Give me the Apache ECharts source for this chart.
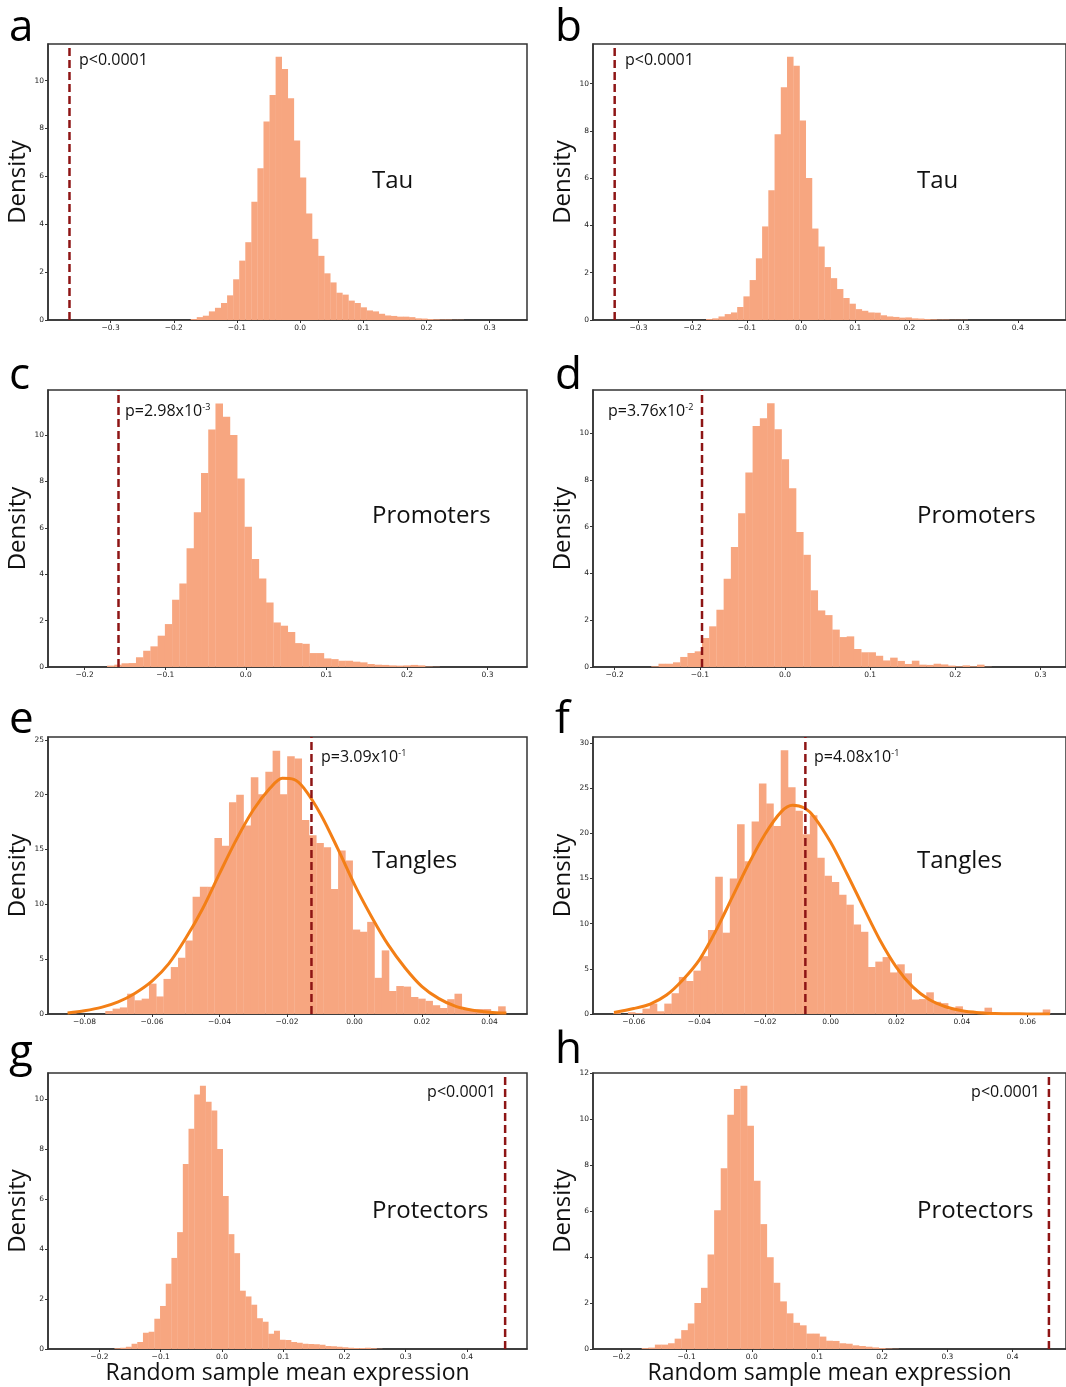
<!DOCTYPE html>
<html>
<head>
<meta charset="utf-8">
<script src="https://cdn.jsdelivr.net/npm/echarts@6/dist/echarts.min.js"></script>
<style>
html,body{margin:0;padding:0;background:#fff;}
#chart{width:1066px;height:1387px;}
</style>
</head>
<body>
<div id="chart"></div>
<script>
// ---------------- DATA ----------------
// a: Tau (left)
const tauLeftBinStart = -0.1732;
const tauLeftBinWidth = 0.0096;
const tauLeftDensity = [0.04,0.12,0.18,0.36,0.51,0.71,1.03,1.70,2.48,3.25,4.94,6.34,8.29,9.40,11.0,10.49,9.26,7.50,5.95,4.45,3.39,2.68,1.95,1.57,1.14,1.06,0.81,0.71,0.53,0.40,0.36,0.26,0.19,0.17,0.14,0.14,0.12,0.07,0.06,0.04,0.03,0.02,0.02,0.01,0.01];
const tauLeftObserved = -0.365;
const tauLeftXRange = [-0.399, 0.359];
const tauLeftYMax = 11.53;
const tauLeftXTicks = [-0.3,-0.2,-0.1,0,0.1,0.2,0.3];

// b: Tau (right)
const tauRightBinStart = -0.1754;
const tauRightBinWidth = 0.0115;
const tauRightDensity = [0.04,0.07,0.15,0.25,0.32,0.55,1.0,1.69,2.61,3.96,5.49,7.86,9.85,11.14,10.76,8.44,6.01,3.87,3.11,2.24,1.77,1.31,0.93,0.69,0.46,0.39,0.32,0.31,0.20,0.15,0.13,0.10,0.11,0.07,0.06,0.04,0.03,0.02,0.02,0.01,0.01,0.01];
const tauRightObserved = -0.344;
const tauRightXRange = [-0.384, 0.489];
const tauRightYMax = 11.68;
const tauRightXTicks = [-0.3,-0.2,-0.1,0,0.1,0.2,0.3,0.4];

// c: Promoters (left)
const promLeftBinStart = -0.1722;
const promLeftBinWidth = 0.00897;
const promLeftDensity = [0.06,0.10,0.16,0.17,0.42,0.70,0.89,1.35,1.85,2.90,3.60,5.12,6.67,8.36,10.24,11.36,10.79,10.0,8.13,6.05,4.65,3.82,2.78,1.92,1.78,1.51,1.03,1.00,0.60,0.60,0.37,0.34,0.27,0.27,0.23,0.20,0.13,0.10,0.09,0.07,0.06,0.07,0.09,0.07,0.02,0.01];
const promLeftObserved = -0.158;
const promLeftXRange = [-0.2455, 0.349];
const promLeftYMax = 11.94;
const promLeftXTicks = [-0.2,-0.1,0,0.1,0.2,0.3];

// d: Promoters (right)
const promRightBinStart = -0.157;
const promRightBinWidth = 0.0085;
const promRightDensity = [0.03,0.14,0.14,0.20,0.43,0.60,0.67,1.24,1.74,2.45,3.77,5.13,6.58,8.32,10.31,10.64,11.28,10.17,8.89,7.65,5.77,4.80,3.28,2.42,2.22,1.60,1.28,1.31,0.77,0.63,0.63,0.48,0.28,0.40,0.26,0.13,0.27,0.10,0.09,0.14,0.11,0.06,0.03,0.07,0.03,0.10,0.01];
const promRightObserved = -0.0974;
const promRightXRange = [-0.2254, 0.330];
const promRightYMax = 11.85;
const promRightXTicks = [-0.2,-0.1,0,0.1,0.2,0.3];

// e: Tangles (left)
const tangLeftBinStart = -0.0846;
const tangLeftBinWidth = 0.002155;
const tangLeftDensity = [0.05,0,0,0,0,0.27,0.49,0.6,1.85,1.25,1.4,2.77,1.6,3.2,4.28,5.13,6.7,10.7,11.6,11.6,16.05,15.35,19.3,20.0,17.2,21.6,20.05,22.1,24.0,20.05,23.5,23.3,17.7,16.3,15.6,15.2,11.4,14.9,14.0,7.7,7.5,8.4,3.3,5.8,2.1,2.55,2.5,1.55,1.4,1.2,0.8,0.55,1.35,1.85,0.4,0.45,0.45,0.45,0.1,0.7];
const tangLeftFitX = [-0.085,-0.080,-0.075,-0.070,-0.065,-0.060,-0.055,-0.050,-0.045,-0.040,-0.035,-0.030,-0.025,-0.0214,-0.018,-0.015,-0.010,-0.005,0.000,0.005,0.010,0.015,0.020,0.025,0.030,0.035,0.040,0.045];
const tangLeftFitY = [0.1,0.3,0.6,1.1,1.9,3.0,4.6,6.9,9.6,12.8,15.9,18.6,20.6,21.5,21.4,20.6,18.2,15.1,11.8,8.9,6.3,4.2,2.5,1.4,0.7,0.35,0.17,0.08];
const tangLeftObserved = -0.01275;
const tangLeftXRange = [-0.0908, 0.0511];
const tangLeftYMax = 25.26;
const tangLeftXTicks = [-0.08,-0.06,-0.04,-0.02,0,0.02,0.04];

// f: Tangles (right)
const tangRightBinStart = -0.0662;
const tangRightBinWidth = 0.002217;
const tangRightDensity = [0.1,0,0.2,0.1,0.6,1.15,0.3,1.15,2.3,4.1,3.65,4.8,6.4,9.3,15.2,9.0,15.0,21.0,16.9,21.3,25.5,23.3,20.8,29.2,25.1,22.5,19.9,22.0,17.3,15.3,14.6,13.2,12.1,9.9,9.1,5.2,5.8,6.3,4.6,5.5,4.5,1.6,1.65,2.4,1.35,1.2,0.5,0.85,0.2,0.1,0.3,0.7,0.1,0.1,0.1,0.1,0.1,0.05,0.05,0.5];
const tangRightFitX = [-0.066,-0.060,-0.055,-0.050,-0.045,-0.040,-0.035,-0.030,-0.025,-0.020,-0.015,-0.0116,-0.008,-0.005,0.000,0.005,0.010,0.015,0.020,0.025,0.030,0.035,0.040,0.045,0.050,0.055,0.060,0.0668];
const tangRightFitY = [0.17,0.6,1.1,2.1,3.8,6.0,9.2,12.9,16.6,19.9,22.4,23.1,22.8,21.8,19.0,15.5,11.8,8.2,5.2,3.0,1.6,0.8,0.35,0.15,0.06,0.03,0.01,0.0];
const tangRightObserved = -0.0077;
const tangRightXRange = [-0.0724, 0.0717];
const tangRightYMax = 30.66;
const tangRightXTicks = [-0.06,-0.04,-0.02,0,0.02,0.04,0.06];

// g: Protectors (left)
const protLeftBinStart = -0.1755;
const protLeftBinWidth = 0.0093;
const protLeftDensity = [0.03,0.05,0.09,0.21,0.28,0.65,0.69,1.21,1.72,2.61,3.64,4.67,7.39,8.80,10.17,10.52,9.88,9.53,7.99,6.11,4.59,3.83,2.33,2.10,1.77,1.23,1.09,0.61,0.73,0.37,0.36,0.28,0.25,0.21,0.20,0.19,0.17,0.12,0.11,0.09,0.07,0.05,0.04,0.04,0.05,0.03,0.01];
const protLeftObserved = 0.4623;
const protLeftXRange = [-0.284, 0.498];
const protLeftYMax = 11.03;
const protLeftXTicks = [-0.2,-0.1,0,0.1,0.2,0.3,0.4];

// h: Protectors (right)
const protRightBinStart = -0.1688;
const protRightBinWidth = 0.0101;
const protRightDensity = [0.04,0.06,0.19,0.19,0.25,0.45,0.82,1.11,2.0,2.66,4.11,6.03,7.86,10.19,11.30,11.45,9.71,7.32,5.43,3.99,2.88,2.07,1.55,1.14,1.03,0.67,0.67,0.54,0.36,0.35,0.25,0.23,0.16,0.13,0.10,0.07,0.04,0.02,0.01];
const protRightObserved = 0.4558;
const protRightXRange = [-0.2435, 0.482];
const protRightYMax = 12.0;
const protRightXTicks = [-0.2,-0.1,0,0.1,0.2,0.3,0.4];

const yTicks10 = [0,2,4,6,8,10];
const yTicks12 = [0,2,4,6,8,10,12];
const yTicks25 = [0,5,10,15,20,25];
const yTicks30 = [0,5,10,15,20,25,30];

const categoryNames = ['Tau','Tau','Promoters','Promoters','Tangles','Tangles','Protectors','Protectors'];
const panelLetters = ['a','b','c','d','e','f','g','h'];
const pLabels = ['p<0.0001','p<0.0001','p=2.98x10{sup|-3}','p=3.76x10{sup|-2}','p=3.09x10{sup|-1}','p=4.08x10{sup|-1}','p<0.0001','p<0.0001'];

// ---------------- LAYOUT & STYLE ----------------
const HIST_COLOR = '#F7A680';
const FIT_COLOR = '#F37F16';
const DASH_COLOR = '#8E1515';
const AXIS_COLOR = '#333';
const LABEL_FONT = '"Open Sans", "Noto Sans", sans-serif';

const layouts = [
  {left:48, top:44, width:479, height:276},
  {left:593, top:44, width:474, height:276},
  {left:48, top:390, width:479, height:277},
  {left:593, top:390, width:474, height:277},
  {left:48, top:737, width:479, height:277},
  {left:593, top:737, width:474, height:277},
  {left:48, top:1073, width:479, height:276},
  {left:593, top:1073, width:474, height:276}
];

const panels = [
  {start:tauLeftBinStart, w:tauLeftBinWidth, dens:tauLeftDensity, obs:tauLeftObserved, xr:tauLeftXRange, ymax:tauLeftYMax, xt:tauLeftXTicks, yt:yTicks10, dec:1},
  {start:tauRightBinStart, w:tauRightBinWidth, dens:tauRightDensity, obs:tauRightObserved, xr:tauRightXRange, ymax:tauRightYMax, xt:tauRightXTicks, yt:yTicks10, dec:1},
  {start:promLeftBinStart, w:promLeftBinWidth, dens:promLeftDensity, obs:promLeftObserved, xr:promLeftXRange, ymax:promLeftYMax, xt:promLeftXTicks, yt:yTicks10, dec:1},
  {start:promRightBinStart, w:promRightBinWidth, dens:promRightDensity, obs:promRightObserved, xr:promRightXRange, ymax:promRightYMax, xt:promRightXTicks, yt:yTicks10, dec:1},
  {start:tangLeftBinStart, w:tangLeftBinWidth, dens:tangLeftDensity, obs:tangLeftObserved, xr:tangLeftXRange, ymax:tangLeftYMax, xt:tangLeftXTicks, yt:yTicks25, dec:2, fitX:tangLeftFitX, fitY:tangLeftFitY},
  {start:tangRightBinStart, w:tangRightBinWidth, dens:tangRightDensity, obs:tangRightObserved, xr:tangRightXRange, ymax:tangRightYMax, xt:tangRightXTicks, yt:yTicks30, dec:2, fitX:tangRightFitX, fitY:tangRightFitY},
  {start:protLeftBinStart, w:protLeftBinWidth, dens:protLeftDensity, obs:protLeftObserved, xr:protLeftXRange, ymax:protLeftYMax, xt:protLeftXTicks, yt:yTicks10, dec:1},
  {start:protRightBinStart, w:protRightBinWidth, dens:protRightDensity, obs:protRightObserved, xr:protRightXRange, ymax:protRightYMax, xt:protRightXTicks, yt:yTicks12, dec:1}
];

// text placements (pixels)
const letterPos = [[9,28],[555,28],[9,376],[555,376],[9,720],[555,720],[9,1053],[555,1050]];
const namePos = [[372,181],[917,181],[372,516],[917,516],[372,861],[917,861],[372,1211],[917,1211]];
const pPos = [[79,60,'left'],[625,60,'left'],[125,411,'left'],[608,411,'left'],[321,757,'left'],[814,757,'left'],[496,1092,'right'],[1040,1092,'right']];

function fmtTick(v, d){
  if (Math.abs(v) < 1e-12) return (0).toFixed(d);
  return (v < 0 ? '\u2212' : '') + Math.abs(v).toFixed(d);
}

function renderBar(params, api){
  const x0 = api.value(0), x1 = api.value(1), h = api.value(2);
  const a = api.coord([x0, 0]);
  const b = api.coord([x1, h]);
  return {
    type:'rect',
    shape:{x:a[0], y:b[1], width:(b[0]-a[0])+0.3, height:a[1]-b[1]},
    style:{fill:HIST_COLOR}
  };
}

const grid = [], xAxis = [], yAxis = [], series = [], graphic = [];

panels.forEach((p, i) => {
  grid.push(Object.assign({show:true, borderColor:AXIS_COLOR, borderWidth:1.5, containLabel:false}, layouts[i]));
  const bottomRow = i >= 6;
  xAxis.push({
    gridIndex:i, type:'value', min:p.xr[0], max:p.xr[1],
    axisLine:{show:true, onZero:false, lineStyle:{color:AXIS_COLOR, width:1.5}},
    axisTick:{show:true, customValues:p.xt, length:3, lineStyle:{color:AXIS_COLOR, width:1}},
    axisLabel:{show:true, customValues:p.xt, fontSize:7.5, color:'#222', margin:4, fontFamily:'DejaVu Sans',
      formatter:(v)=>fmtTick(v, p.dec)},
    splitLine:{show:false},
    name: bottomRow ? 'Random sample mean expression' : '',
    nameLocation:'middle', nameGap:10,
    nameTextStyle:{fontSize:23, fontFamily:LABEL_FONT, color:'#111', verticalAlign:'top'}
  });
  yAxis.push({
    gridIndex:i, type:'value', min:0, max:p.ymax,
    axisLine:{show:true, onZero:false, lineStyle:{color:AXIS_COLOR, width:1.5}},
    axisTick:{show:true, customValues:p.yt, length:3, lineStyle:{color:AXIS_COLOR, width:1}},
    axisLabel:{show:true, customValues:p.yt, fontSize:7.5, color:'#222', margin:4, fontFamily:'DejaVu Sans'},
    splitLine:{show:false},
    name:'Density', nameLocation:'middle', nameGap:15,
    nameTextStyle:{fontSize:24, fontFamily:LABEL_FONT, color:'#111'}
  });
  const bins = p.dens.map((h, k) => [p.start + k*p.w, p.start + (k+1)*p.w, h]);
  series.push({
    type:'custom', xAxisIndex:i, yAxisIndex:i, data:bins,
    encode:{x:[0,1], y:2}, renderItem:renderBar, silent:true, animation:false
  });
  if (p.fitX) {
    series.push({
      type:'line', xAxisIndex:i, yAxisIndex:i, smooth:0.3, showSymbol:false, symbol:'none',
      data:p.fitX.map((x,k)=>[x, p.fitY[k]]),
      lineStyle:{color:FIT_COLOR, width:3}, silent:true, animation:false, z:3
    });
  }
  series.push({
    type:'line', xAxisIndex:i, yAxisIndex:i, showSymbol:false, symbol:'none',
    data:[[p.obs, 0],[p.obs, p.ymax]],
    lineStyle:{color:DASH_COLOR, width:2.5, type:[8,4]}, silent:true, animation:false, z:4
  });

  graphic.push({type:'text', x:letterPos[i][0], y:letterPos[i][1], silent:true,
    style:{text:panelLetters[i], fill:'#000', font:'44px ' + LABEL_FONT, align:'left', verticalAlign:'middle'}});
  graphic.push({type:'text', x:namePos[i][0], y:namePos[i][1], silent:true,
    style:{text:categoryNames[i], fill:'#111', font:'24px ' + LABEL_FONT, align:'left', verticalAlign:'middle'}});
  graphic.push({type:'text', x:pPos[i][0], y:pPos[i][1], silent:true,
    style:{text:pLabels[i], fill:'#111', font:'16px ' + LABEL_FONT, align:pPos[i][2], verticalAlign:'middle',
      rich:{sup:{fontSize:9, fontFamily:'Open Sans', fill:'#111', verticalAlign:'top'}}}});
});

const chart = echarts.init(document.getElementById('chart'), null, {renderer:'canvas'});
chart.setOption({
  backgroundColor:'#fff',
  animation:false,
  grid, xAxis, yAxis, series, graphic
});
</script>
</body>
</html>
